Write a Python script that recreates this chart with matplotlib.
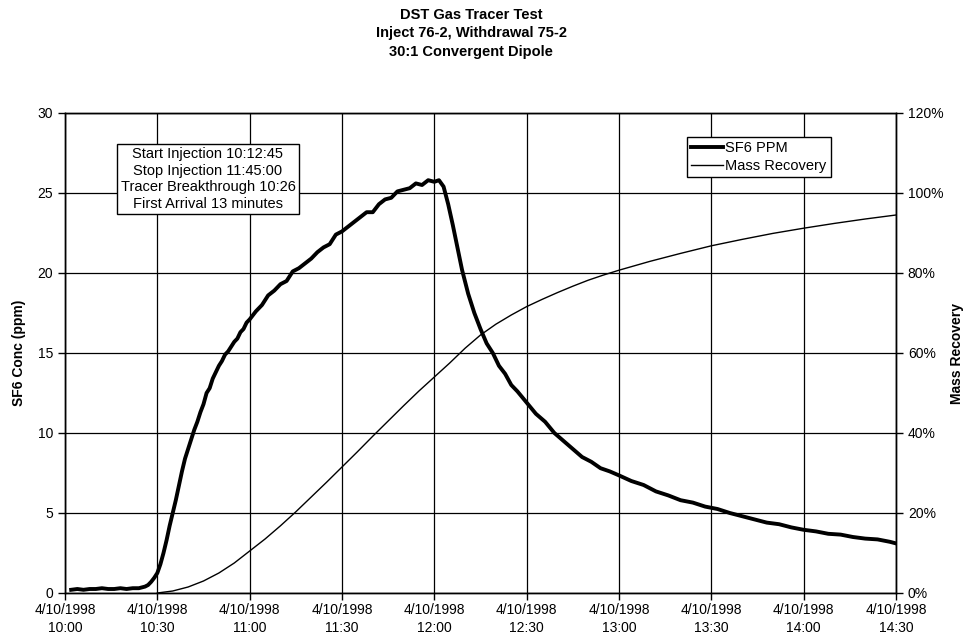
import matplotlib
matplotlib.use('Agg')
import matplotlib.pyplot as plt
import pandas as pd

plt.rcParams['font.family'] = ['Liberation Sans', 'DejaVu Sans']

## data (minutes after 10:00 on 4/10/1998)
sf6_min = [2, 4, 6, 8, 10, 12, 14, 16, 18, 20, 22, 24, 25, 26, 27, 28, 29, 30, 31, 32,
           33, 34, 35, 36, 37, 38, 39, 40, 41, 42, 43, 44, 45, 46, 47, 48, 49, 50, 51,
           52, 53, 54, 55, 56, 57, 58, 59, 60, 62, 64, 66, 68, 70, 72, 74, 76, 78, 80,
           82, 84, 86, 88, 90, 92, 94, 96, 98, 100, 102, 104, 106, 108, 110, 112, 114,
           116, 118, 120, 121.5, 123, 124.5, 126, 127.5, 129, 131, 133, 135, 137, 139,
           141, 143, 145, 147, 150, 153, 156, 159, 162, 165, 168, 171, 174, 177, 180,
           184, 188, 192, 196, 200, 204, 208, 212, 216, 220, 224, 228, 232, 236, 240,
           244, 248, 252, 256, 260, 264, 268, 270]
sf6_ppm = [0.2, 0.25, 0.2, 0.25, 0.25, 0.3, 0.25, 0.25, 0.3, 0.25, 0.3, 0.3, 0.35, 0.4,
           0.5, 0.7, 0.95, 1.25, 1.8, 2.5, 3.3, 4.2, 5.0, 5.8, 6.7, 7.6, 8.4, 9.0, 9.6,
           10.2, 10.7, 11.3, 11.8, 12.5, 12.8, 13.4, 13.8, 14.2, 14.5, 14.9, 15.1, 15.4,
           15.7, 15.9, 16.3, 16.5, 16.9, 17.1, 17.6, 18.0, 18.6, 18.9, 19.3, 19.5, 20.1,
           20.3, 20.6, 20.9, 21.3, 21.6, 21.8, 22.4, 22.6, 22.9, 23.2, 23.5, 23.8, 23.8,
           24.3, 24.6, 24.7, 25.1, 25.2, 25.3, 25.6, 25.5, 25.8, 25.7, 25.8, 25.4, 24.3,
           23.0, 21.6, 20.2, 18.7, 17.5, 16.5, 15.6, 15.0, 14.2, 13.7, 13.0, 12.6, 11.9,
           11.2, 10.7, 10.0, 9.5, 9.0, 8.5, 8.2, 7.8, 7.6, 7.35, 7.0, 6.75, 6.35, 6.1,
           5.8, 5.65, 5.4, 5.25, 5.0, 4.8, 4.6, 4.4, 4.3, 4.1, 3.95, 3.85, 3.7, 3.65,
           3.5, 3.4, 3.35, 3.2, 3.1]

mass_min = [30, 35, 40, 45, 50, 55, 60, 65, 70, 75, 80, 85, 90, 95, 100, 105, 110,
            115, 120, 125, 130, 135, 140, 145, 150, 155, 160, 165, 170, 175, 180, 190,
            200, 210, 220, 230, 240, 250, 260, 270]
mass_pct = [0, 0.5, 1.5, 3, 5, 7.5, 10.5, 13.5, 16.8, 20.3, 24, 27.7, 31.5, 35.3,
            39.2, 43, 46.8, 50.5, 54, 57.5, 61.2, 64.5, 67.2, 69.5, 71.6, 73.4, 75.1,
            76.7, 78.2, 79.5, 80.7, 82.9, 84.9, 86.8, 88.4, 89.9, 91.2, 92.4, 93.5, 94.5]

tick_min = [0, 30, 60, 90, 120, 150, 180, 210, 240, 270]
tick_labels = ['4/10/1998\n10:00', '4/10/1998\n10:30', '4/10/1998\n11:00',
               '4/10/1998\n11:30', '4/10/1998\n12:00', '4/10/1998\n12:30',
               '4/10/1998\n13:00', '4/10/1998\n13:30', '4/10/1998\n14:00',
               '4/10/1998\n14:30']

note = ('Start Injection 10:12:45\nStop Injection 11:45:00\n'
        'Tracer Breakthrough 10:26\nFirst Arrival 13 minutes')

base = pd.Timestamp('1998-04-10 10:00')
def to_time(mins):
    return base + pd.to_timedelta(mins, unit='m')

fig = plt.figure(figsize=(9.68, 6.42), dpi=100)
ax = fig.add_axes([65/968, 1 - 593/642, (896 - 65)/968, (593 - 113)/642])
ax2 = ax.twinx()

l1, = ax.plot(to_time(sf6_min), sf6_ppm, color='black', lw=2.8, label='SF6 PPM',
              solid_joinstyle='round')
l2, = ax2.plot(to_time(mass_min), mass_pct, color='black', lw=1.0, label='Mass Recovery')

ax.set_xlim(to_time([0])[0], to_time([270])[0])
ax.set_ylim(0, 30)
ax2.set_ylim(0, 120)
ax.set_yticks(range(0, 31, 5))
ax2.set_yticks(range(0, 121, 20))
ax2.set_yticklabels(['{}%'.format(v) for v in range(0, 121, 20)])
ax.set_xticks(to_time(tick_min))
ax.set_xticklabels(tick_labels)
for lab in ax.get_xticklabels():
    lab.set_linespacing(1.4)

ax.grid(True, color='black', lw=0.9)
ax.set_axisbelow(True)
for a in (ax, ax2):
    a.tick_params(labelsize=10, length=5, width=1, direction='out', colors='black')
    for s in a.spines.values():
        s.set_color('black')
        s.set_linewidth(1)
ax.tick_params(axis='x', pad=2)

ax.set_ylabel('SF6 Conc (ppm)', fontsize=10, fontweight='bold', labelpad=8)
ax2.set_ylabel('Mass Recovery', fontsize=10, fontweight='bold', labelpad=5)

fig.text(471/968, 1 - 8/642,
         'DST Gas Tracer Test\nInject 76-2, Withdrawal 75-2\n30:1 Convergent Dipole',
         ha='center', va='top', fontsize=10.5, fontweight='bold', linespacing=1.4)

ax.text(208/968, 1 - 179/642, note, transform=fig.transFigure, ha='center',
        va='center', fontsize=10.5, linespacing=1.22,
        bbox=dict(boxstyle='square,pad=0.25', fc='white', ec='black', lw=1))

leg = ax2.legend(handles=[l1, l2], loc='upper left',
                 bbox_to_anchor=(687/968, 1 - 137/642), bbox_transform=fig.transFigure,
                 fontsize=10.5, frameon=True, fancybox=False, edgecolor='black',
                 framealpha=1, handlelength=2.2, handletextpad=0.1,
                 labelspacing=0.25, borderpad=0.3, borderaxespad=0)
leg.get_frame().set_linewidth(1)

fig.savefig('out.png', dpi=100)
